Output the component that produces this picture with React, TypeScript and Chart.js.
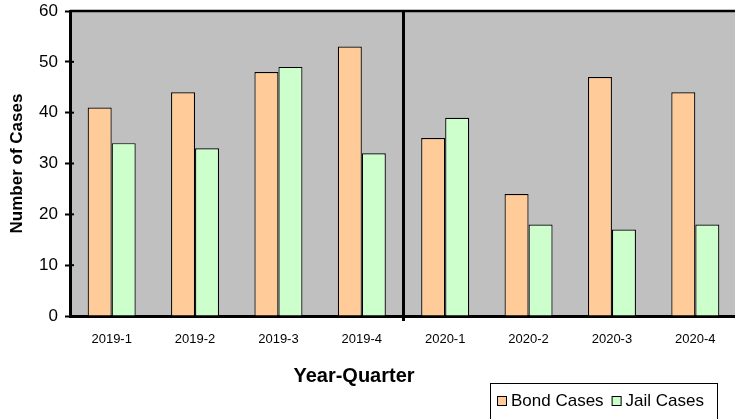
import React, { useEffect, useRef } from "react";
import { Chart, registerables } from "chart.js";

Chart.register(...registerables);

const categories = ["2019-1", "2019-2", "2019-3", "2019-4", "2020-1", "2020-2", "2020-3", "2020-4"];
const bondCases = [41, 44, 48, 53, 35, 24, 47, 44];
const jailCases = [34, 33, 49, 32, 39, 18, 17, 18];
const seriesLabels = ["Bond Cases", "Jail Cases"];
const seriesColors = ["#FFCC99", "#CCFFCC"];
const yTicks = [0, 10, 20, 30, 40, 50, 60];
const xTitle = "Year-Quarter";
const yTitle = "Number of Cases";

const FONT = "Arial, 'Liberation Sans', sans-serif";

const decorPlugin = {
  id: "decor",
  beforeDraw(chart: any) {
    const { ctx, chartArea } = chart;
    ctx.save();
    ctx.fillStyle = "#C0C0C0";
    ctx.fillRect(chartArea.left, chartArea.top, chartArea.right - chartArea.left, chartArea.bottom - chartArea.top);
    ctx.restore();
  },
  afterDatasetsDraw(chart: any) {
    const { ctx, chartArea, scales } = chart;
    const x = scales.x;
    const y = scales.y;
    ctx.save();
    ctx.strokeStyle = "#000";
    // top border
    ctx.lineWidth = 2.5;
    ctx.beginPath();
    ctx.moveTo(chartArea.left, chartArea.top);
    ctx.lineTo(chartArea.right, chartArea.top);
    ctx.stroke();
    // inner halves of y tick marks
    ctx.lineWidth = 2;
    yTicks.forEach((v) => {
      const py = y.getPixelForValue(v);
      ctx.beginPath();
      ctx.moveTo(chartArea.left, py);
      ctx.lineTo(chartArea.left + 4, py);
      ctx.stroke();
    });
    // divider between years
    const xd = (x.getPixelForValue(3) + x.getPixelForValue(4)) / 2;
    ctx.lineWidth = 3;
    ctx.beginPath();
    ctx.moveTo(xd, chartArea.top);
    ctx.lineTo(xd, chartArea.bottom + 5);
    ctx.stroke();
    ctx.restore();
  },
  afterDraw(chart: any) {
    const { ctx } = chart;
    const ds = chart.data.datasets;
    ctx.save();
    // x axis title
    ctx.fillStyle = "#000";
    ctx.font = `bold 20px ${FONT}`;
    ctx.textAlign = "center";
    ctx.textBaseline = "middle";
    ctx.fillText(xTitle, 354, 376);
    // legend
    const bx = 490, by = 383, bw = 227, bh = 60;
    ctx.fillStyle = "#fff";
    ctx.fillRect(bx, by, bw, bh);
    ctx.strokeStyle = "#000";
    ctx.lineWidth = 1;
    ctx.strokeRect(bx + 0.5, by + 0.5, bw, bh);
    ctx.font = `17px ${FONT}`;
    ctx.textBaseline = "middle";
    ctx.textAlign = "left";
    let cx = bx + 7;
    const cy = 401;
    ds.forEach((d: any) => {
      ctx.fillStyle = d.backgroundColor;
      ctx.fillRect(cx, cy - 5, 10, 10);
      ctx.strokeStyle = "#000";
      ctx.lineWidth = 1;
      ctx.strokeRect(cx + 0.5, cy - 5 + 0.5, 9, 9);
      ctx.fillStyle = "#000";
      ctx.fillText(d.label, cx + 14, cy);
      cx += 14 + ctx.measureText(d.label).width + 8;
    });
    ctx.restore();
  },
};

export default function App() {
  const ref = useRef<HTMLCanvasElement>(null);
  useEffect(() => {
    if (!ref.current) return;
    const chart = new Chart(ref.current, {
      type: "bar",
      data: {
        labels: categories,
        datasets: [
          {
            label: seriesLabels[0],
            data: bondCases,
            backgroundColor: seriesColors[0],
            borderColor: "#000",
            borderWidth: 1.2,
            categoryPercentage: 0.576,
            barPercentage: 1,
          },
          {
            label: seriesLabels[1],
            data: jailCases,
            backgroundColor: seriesColors[1],
            borderColor: "#000",
            borderWidth: 1.2,
            categoryPercentage: 0.576,
            barPercentage: 1,
          },
        ],
      },
      options: {
        responsive: false,
        animation: false,
        maintainAspectRatio: false,
        layout: { padding: { top: 11, left: 0, right: 3, bottom: 0 } },
        plugins: {
          legend: { display: false },
          tooltip: { enabled: false },
        },
        scales: {
          x: {
            offset: true,
            grid: { display: true, drawOnChartArea: false, drawTicks: false },
            border: { display: true, color: "#000", width: 3 },
            ticks: { color: "#000", font: { family: FONT, size: 13 }, padding: 16, maxRotation: 0, autoSkip: false },
            title: { display: false, text: xTitle },
            afterFit: (s: any) => {
              s.height = 103;
              s.paddingLeft = 0;
              s.paddingRight = 0;
            },
          },
          y: {
            min: 0,
            max: 60,
            afterBuildTicks: (s: any) => {
              s.ticks = yTicks.map((v) => ({ value: v }));
            },
            grid: { drawOnChartArea: false, drawTicks: true, tickLength: 5, tickWidth: 2, tickColor: "#000" },
            border: { display: true, color: "#000", width: 3 },
            ticks: { color: "#000", font: { family: FONT, size: 17 }, padding: 7 },
            title: {
              display: true,
              text: yTitle,
              color: "#000",
              font: { family: FONT, size: 17, weight: "bold" },
              padding: { top: 7, bottom: 0 },
            },
            afterFit: (s: any) => {
              s.width = 70;
              s.paddingTop = 0;
              s.paddingBottom = 0;
            },
          },
        },
      },
      plugins: [decorPlugin],
    });
    return () => chart.destroy();
  }, []);
  return (
    <div style={{ position: "fixed", left: 0, top: 0, width: 735, height: 419, overflow: "hidden", background: "#fff" }}>
      <canvas ref={ref} width={740} height={419} style={{ display: "block" }} />
    </div>
  );
}
